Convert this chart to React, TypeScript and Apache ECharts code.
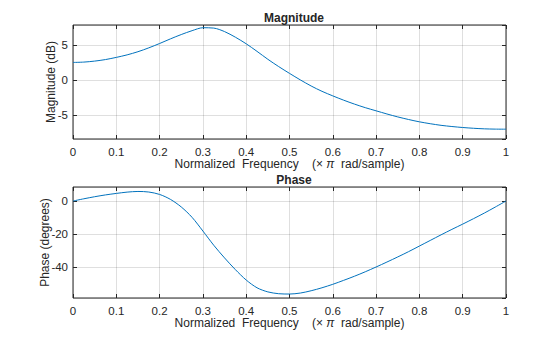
import React, { useEffect, useRef } from "react";
import * as echarts from "echarts";

const freq = [
  0, 0.025, 0.05, 0.075, 0.1, 0.125, 0.15, 0.175, 0.2, 0.225, 0.25, 0.275, 0.3, 0.325, 0.35, 0.375, 0.4, 0.425, 0.45, 0.475, 0.5,
  0.525, 0.55, 0.575, 0.6, 0.625, 0.65, 0.675, 0.7, 0.725, 0.75, 0.775, 0.8, 0.825, 0.85, 0.875, 0.9, 0.925, 0.95, 0.975, 1,
];
const magDb = [
  2.52, 2.57, 2.71, 2.93, 3.24, 3.6, 4.05, 4.6, 5.22, 5.88, 6.5, 7.05, 7.47, 7.42, 6.92, 6.12, 5.18, 4.1, 2.97, 1.93, 0.96,
  0.03, -0.84, -1.6, -2.25, -2.86, -3.42, -3.93, -4.38, -4.83, -5.25, -5.62, -5.95, -6.22, -6.45, -6.62, -6.76, -6.87, -6.95, -6.99, -7.0,
];
const phDeg = [
  0, 1.35, 2.6, 3.7, 4.6, 5.4, 5.8, 5.45, 4.0, 1.0, -3.6, -9.9, -18.2, -26.8, -34.5, -41.6, -47.9, -52.6, -55.1, -56.2, -56.4,
  -55.8, -54.4, -52.6, -50.5, -48.1, -45.6, -42.9, -40.0, -37.0, -33.9, -30.7, -27.3, -23.9, -20.5, -17.2, -14.0, -10.7, -7.3, -3.7, 0,
];

const titles = ["Magnitude", "Phase"];
const yTitles = ["Magnitude (dB)", "Phase (degrees)"];

const FONT = "'Liberation Sans', Arial, Helvetica, sans-serif";
const TXT = "#262626";
const GRIDC = "rgba(38,38,38,0.15)";

export default function App() {
  const ref = useRef<HTMLDivElement>(null);
  useEffect(() => {
    if (!ref.current) return;
    const chart = echarts.init(ref.current, null, { renderer: "svg" });
    const mkX = (gridIndex: number, bottom: boolean) => ({
      type: "value",
      gridIndex,
      position: bottom ? "bottom" : "top",
      min: 0,
      max: 1,
      interval: 0.1,
      name: bottom ? "{a|Normalized  Frequency    (\u00D7 }{b|\u03C0}{a|  rad/sample)}" : "",
      nameLocation: "middle",
      nameGap: 19,
      nameMoveOverlap: false,
      nameTextStyle: {
        lineHeight: 12,
        rich: {
          a: { fontFamily: FONT, fontSize: 12, lineHeight: 12, color: TXT },
          b: { fontFamily: FONT, fontSize: 12, lineHeight: 12, color: TXT, fontStyle: "italic" },
        },
      },
      axisLine: { show: false, onZero: false },
      axisTick: { show: true, inside: true, length: 4, lineStyle: { color: TXT } },
      axisLabel: {
        show: bottom,
        fontFamily: FONT,
        fontSize: 11.5,
        lineHeight: 11,
        color: TXT,
        margin: 7,
        formatter: (v: number) => String(Math.round(v * 10) / 10),
      },
      splitLine: { show: bottom, lineStyle: { color: GRIDC, width: 1 } },
    });
    const mkY = (gridIndex: number, left: boolean, min: number, max: number, step: number, name: string, gap: number) => ({
      type: "value",
      gridIndex,
      position: left ? "left" : "right",
      min,
      max,
      minInterval: step,
      maxInterval: step,
      name: left ? name : "",
      nameLocation: "middle",
      nameGap: gap,
      nameMoveOverlap: false,
      nameRotate: 90,
      nameTextStyle: { fontFamily: FONT, fontSize: 12, color: TXT },
      axisLine: { show: false, onZero: false },
      axisTick: { show: true, inside: true, length: 4, lineStyle: { color: TXT } },
      axisLabel: {
        show: left,
        showMinLabel: false,
        showMaxLabel: false,
        fontFamily: FONT,
        fontSize: 11.5,
        color: TXT,
        margin: 5,
      },
      splitLine: { show: left, lineStyle: { color: GRIDC, width: 1 } },
    });
    const option = {
      animation: false,
      backgroundColor: "#ffffff",
      title: [
        {
          text: titles[0],
          left: 289,
          top: 7,
          textAlign: "center",
          textStyle: { fontFamily: FONT, fontSize: 12, fontWeight: "bold", color: TXT },
        },
        {
          text: titles[1],
          left: 289,
          top: 169,
          textAlign: "center",
          textStyle: { fontFamily: FONT, fontSize: 12, fontWeight: "bold", color: TXT },
        },
      ],
      grid: [
        { left: 73, right: 54, top: 25, height: 114, show: true, borderColor: TXT, borderWidth: 1, backgroundColor: "transparent" },
        { left: 73, right: 54, top: 187, height: 111, show: true, borderColor: TXT, borderWidth: 1, backgroundColor: "transparent" },
      ],
      xAxis: [mkX(0, true), mkX(0, false), mkX(1, true), mkX(1, false)],
      yAxis: [
        mkY(0, true, -8.4, 7.86, 5, yTitles[0], 16),
        mkY(0, false, -8.4, 7.86, 5, "", 0),
        mkY(1, true, -58.8, 8.5, 20, yTitles[1], 22),
        mkY(1, false, -58.8, 8.5, 20, "", 0),
      ],
      series: [
        {
          type: "line",
          xAxisIndex: 0,
          yAxisIndex: 0,
          data: freq.map((f, i) => [f, magDb[i]]),
          smooth: 0.3,
          showSymbol: false,
          lineStyle: { color: "#0072BD", width: 1 },
        },
        {
          type: "line",
          xAxisIndex: 2,
          yAxisIndex: 2,
          data: freq.map((f, i) => [f, phDeg[i]]),
          smooth: 0.3,
          showSymbol: false,
          lineStyle: { color: "#0072BD", width: 1 },
        },
      ],
    };
    chart.setOption(option as any);
    return () => chart.dispose();
  }, []);
  return <div ref={ref} style={{ width: 560, height: 337, position: "absolute", left: 0, top: 0 }} />;
}
